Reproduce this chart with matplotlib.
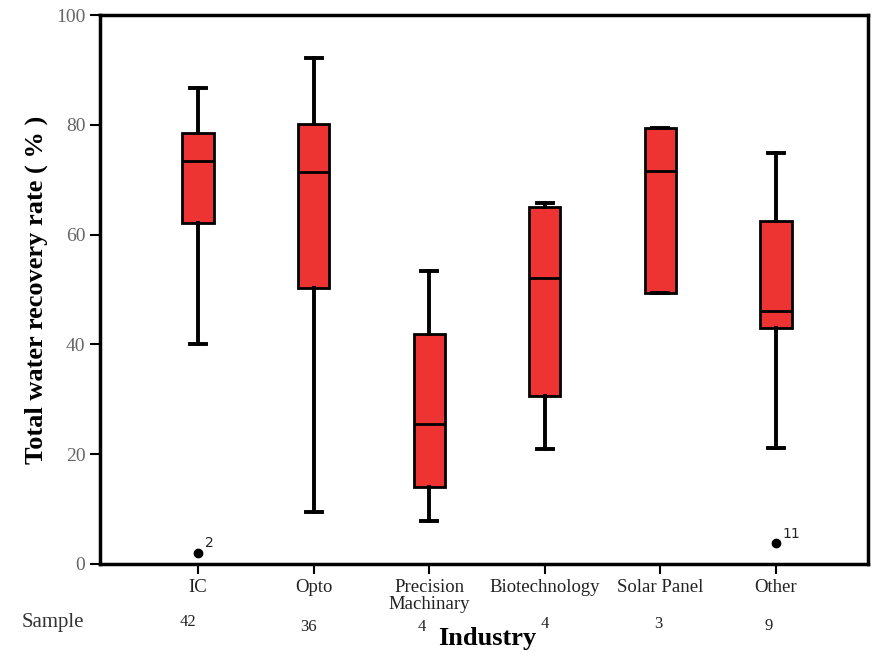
import matplotlib.pyplot as plt
import matplotlib.transforms as mtransforms

industries = ['IC', 'Opto', 'Precision\nMachinary', 'Biotechnology', 'Solar Panel', 'Other']
samples = [42, 36, 4, 4, 3, 9]
whis_low = [40.1, 9.5, 7.8, 20.9, 49.4, 21.1]
q1 = [62.1, 50.3, 14.0, 30.6, 49.4, 43.0]
medians = [73.4, 71.4, 25.5, 52.1, 71.6, 46.1]
q3 = [78.5, 80.1, 41.9, 65.0, 79.5, 62.5]
whis_high = [86.7, 92.2, 53.4, 65.8, 79.5, 74.9]
outliers = [[2.0], [], [], [], [], [3.8]]
outlier_ids = [['2'], [], [], [], [], ['11']]

serif = ['Liberation Serif', 'DejaVu Serif']

stats = []
for i in range(len(industries)):
    stats.append(dict(whislo=whis_low[i], q1=q1[i], med=medians[i], q3=q3[i],
                      whishi=whis_high[i], fliers=outliers[i], label=industries[i]))

fig = plt.figure(figsize=(8.74, 6.53), dpi=100)
ax = fig.add_axes([0.1144, 0.1363, 0.8787, 0.8407])

pos = list(range(1, len(industries) + 1))
ax.bxp(stats, positions=pos, widths=0.27, patch_artist=True, showfliers=True,
       boxprops=dict(facecolor='#ee3333', edgecolor='black', linewidth=2),
       medianprops=dict(color='black', linewidth=2),
       whiskerprops=dict(color='black', linewidth=2.8),
       capprops=dict(color='black', linewidth=2.8),
       capwidths=0.14,
       flierprops=dict(marker='o', markerfacecolor='black', markeredgecolor='black',
                       markersize=6))

# outlier case numbers
for i, (vals, ids) in enumerate(zip(outliers, outlier_ids)):
    for v, lab in zip(vals, ids):
        ax.annotate(lab, (pos[i], v), xytext=(5, 4), textcoords='offset points',
                    fontsize=10, family='DejaVu Sans', color='#222222')

ax.set_xlim(0.152, 6.796)
ax.set_ylim(0, 100)
ax.set_yticks([0, 20, 40, 60, 80, 100])
ax.set_xticks(pos)
ax.set_xticklabels(industries, family=serif, fontsize=13.5, color='#222222',
                   linespacing=1.0)
for t in ax.get_yticklabels():
    t.set_family(serif)
    t.set_fontsize(14)
    t.set_color('#666666')
ax.tick_params(axis='both', direction='out', length=7, width=1.5, colors='black')
ax.tick_params(axis='y', labelcolor='#666666')
ax.tick_params(axis='x', labelcolor='#222222', pad=4)
for s in ax.spines.values():
    s.set_linewidth(2.5)

ax.set_ylabel('Total water recovery rate ( % )', family=serif, fontweight='bold',
              fontsize=19, labelpad=6)

# sample size row
trans = mtransforms.blended_transform_factory(ax.transData, fig.transFigure)
sample_y = [0.048, 0.04, 0.04, 0.044, 0.044, 0.042]
sample_dx = [-0.09, -0.04, -0.06, 0.0, -0.02, -0.06]
for i, n in enumerate(samples):
    ax.text(pos[i] + sample_dx[i], sample_y[i], str(n), transform=trans, ha='center',
            va='center', family=serif, fontsize=12, color='#222222')
fig.text(0.025, 0.047, 'Sample', family=serif, fontsize=15, color='#333333',
         va='center', ha='left')
fig.text(0.558, 0.022, 'Industry', family=serif, fontweight='bold', fontsize=19,
         ha='center', va='center')

fig.savefig('out.png', dpi=100)
